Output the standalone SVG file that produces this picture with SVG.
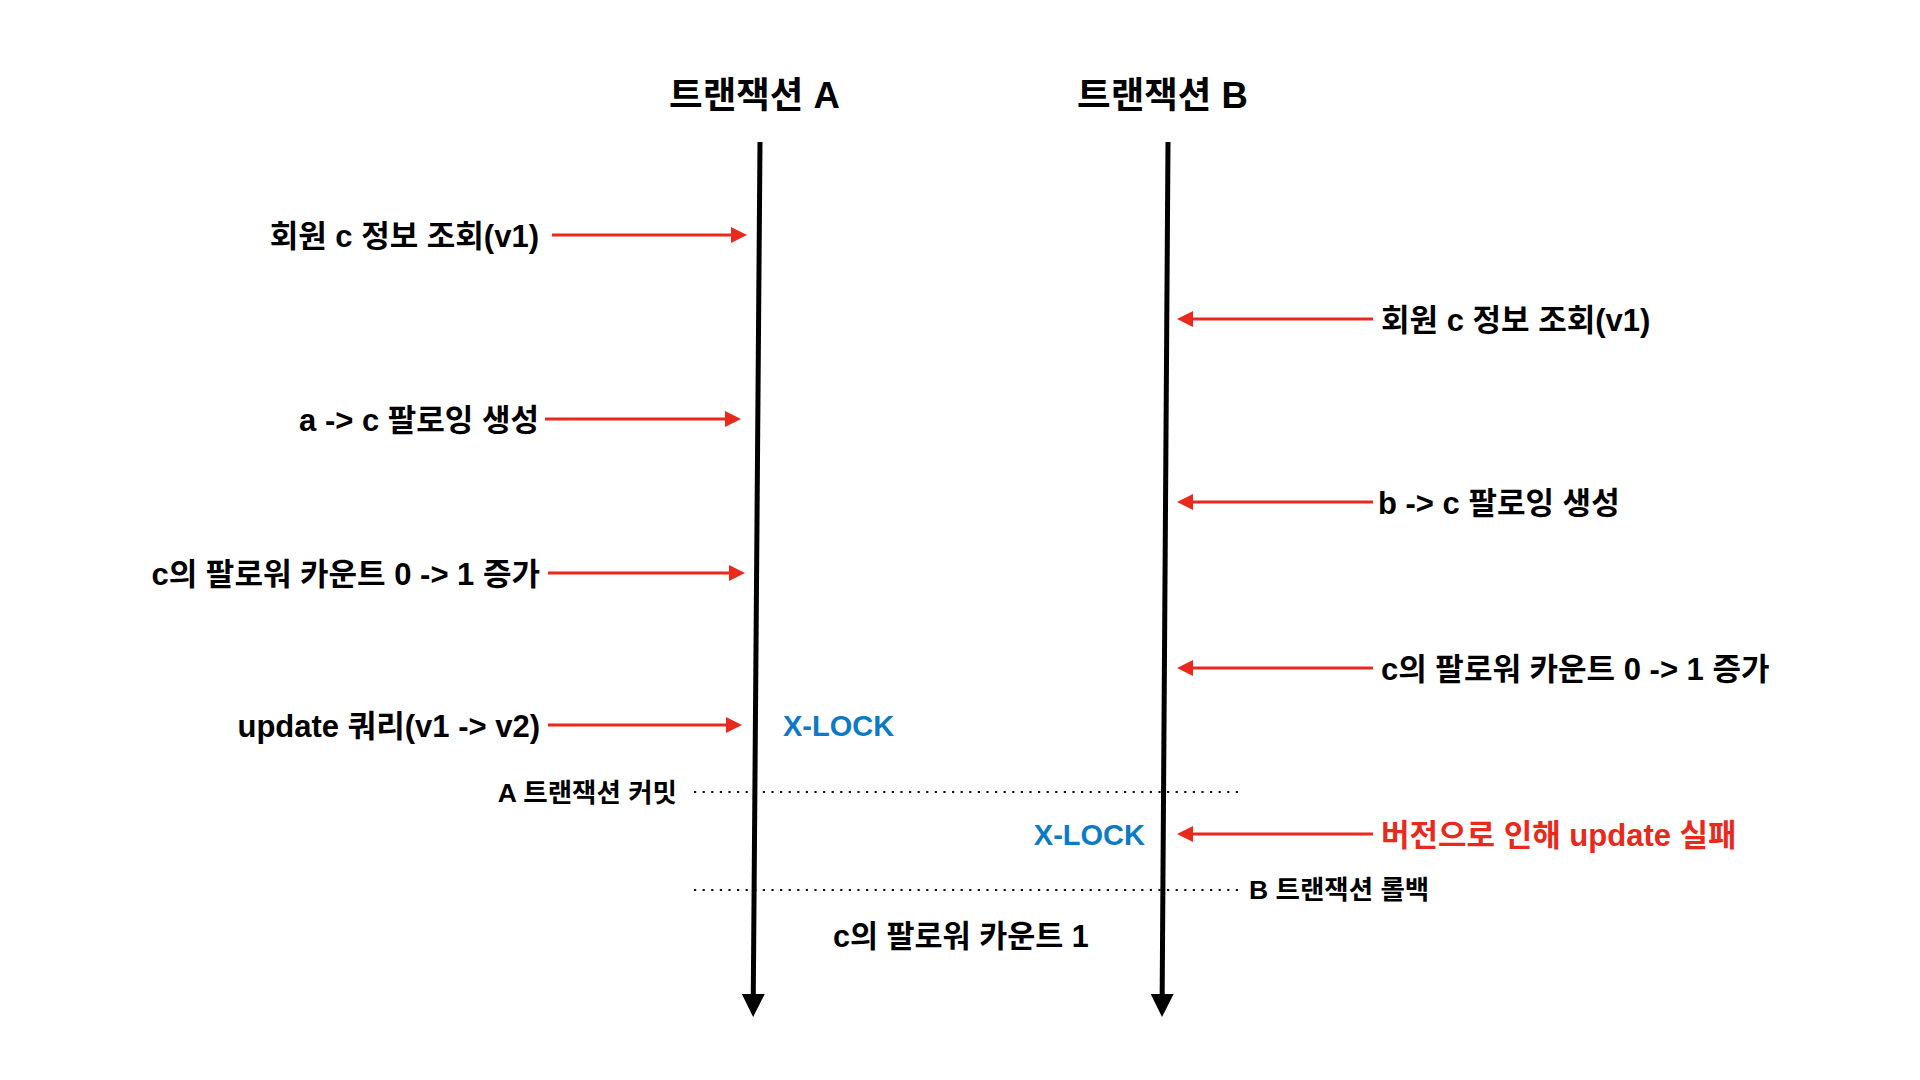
<svg xmlns="http://www.w3.org/2000/svg" width="1920" height="1080" viewBox="0 0 1920 1080">
<style>
text { font-family: "Liberation Sans", "Noto Sans CJK KR", sans-serif; font-weight: bold; fill: #000; }
.title { font-size: 36.5px; text-anchor: middle; }
.lbl { font-size: 31px; }
.res { font-size: 30.5px; }
.small { font-size: 26.5px; }
.lock { font-size: 29px; fill: #0C7BC4; }
.err { fill: #E9291C; }
.msg { stroke: #E9291C; stroke-width: 3; fill: none; marker-end: url(#redHead); }
.life { stroke: #000; stroke-width: 5; fill: none; marker-end: url(#blackHead); }
.dot { stroke: #111; stroke-width: 2.2; stroke-dasharray: 2.2 6.4; fill: none; }
</style>
<defs>
<marker id="redHead" markerUnits="userSpaceOnUse" markerWidth="16" markerHeight="16" refX="8" refY="8" orient="auto">
<path d="M0,0 L16,8 L0,16 z" fill="#E9291C"/>
</marker>
<marker id="blackHead" markerUnits="userSpaceOnUse" markerWidth="23" markerHeight="23" refX="10" refY="11.5" orient="auto">
<path d="M0,0 L23,11.5 L0,23 z" fill="#000"/>
</marker>
</defs>
<rect width="1920" height="1080" fill="#fff"/>

<g id="txA-title"><text class="title" x="754.5" y="108">트랜잭션 A</text></g>
<g id="txB-title"><text class="title" x="1162.5" y="108">트랜잭션 B</text></g>

<g id="a1"><text class="lbl" x="539" y="247" text-anchor="end">회원 c 정보 조회(v1)</text></g>
<g id="a2"><text class="lbl" x="539" y="431" text-anchor="end">a -&gt; c 팔로잉 생성</text></g>
<g id="a3"><text class="lbl" x="540" y="585" text-anchor="end">c의 팔로워 카운트 0 -&gt; 1 증가</text></g>
<g id="a4"><text class="lbl" x="540" y="737" text-anchor="end">update 쿼리(v1 -&gt; v2)</text></g>
<g id="lockA"><text class="lock" x="783" y="736">X-LOCK</text></g>
<g id="commitA"><text class="small" x="677" y="802" text-anchor="end">A 트랜잭션 커밋</text></g>

<g id="b1"><text class="lbl" x="1381" y="331">회원 c 정보 조회(v1)</text></g>
<g id="b2"><text class="lbl" x="1378" y="514">b -&gt; c 팔로잉 생성</text></g>
<g id="b3"><text class="lbl" x="1381" y="680">c의 팔로워 카운트 0 -&gt; 1 증가</text></g>
<g id="b4"><text class="lbl err" x="1381" y="846">버전으로 인해 update 실패</text></g>
<g id="lockB"><text class="lock" x="1145" y="845" text-anchor="end">X-LOCK</text></g>
<g id="rollbackB"><text class="small" x="1249" y="899">B 트랜잭션 롤백</text></g>

<g id="result"><text class="res" x="833" y="947">c의 팔로워 카운트 1</text></g>

<g id="connectors">
<line class="dot" x1="694" y1="792" x2="1241" y2="792"/>
<line class="dot" x1="694" y1="890" x2="1241" y2="890"/>
<line class="life" x1="760" y1="142" x2="753.2" y2="1004"/>
<line class="life" x1="1168" y1="142" x2="1162.1" y2="1004"/>
<line class="msg" x1="552" y1="235" x2="739" y2="235"/>
<line class="msg" x1="545" y1="419" x2="733" y2="419"/>
<line class="msg" x1="548" y1="573" x2="737" y2="573"/>
<line class="msg" x1="548" y1="725" x2="734" y2="725"/>
<line class="msg" x1="1373" y1="319" x2="1185" y2="319"/>
<line class="msg" x1="1373" y1="502" x2="1185" y2="502"/>
<line class="msg" x1="1373" y1="668" x2="1185" y2="668"/>
<line class="msg" x1="1373" y1="834" x2="1185" y2="834"/>
</g>
</svg>
